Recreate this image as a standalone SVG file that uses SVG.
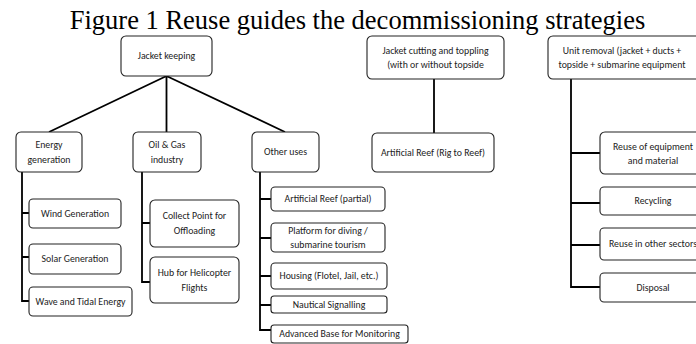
<svg xmlns="http://www.w3.org/2000/svg" width="696" height="344" viewBox="0 0 696 344">
<style>
.box{fill:#fff;stroke:#222;stroke-width:1.1}
.t{font-family:"Carlito","Liberation Sans",sans-serif;font-size:9.8px;fill:#222;text-anchor:middle;dominant-baseline:central}
.c{fill:none;stroke:#000;stroke-width:1.8}
.title{font-family:"Liberation Serif","Times New Roman",serif;font-size:26.5px;fill:#000;text-anchor:middle}
</style>
<rect width="696" height="344" fill="#fff"/>
<text class="title" x="357.5" y="28.5">Figure 1 Reuse guides the decommissioning strategies</text>
<g id="connectors">
<path class="c" d="M166.5 76 L49 132 M166.5 76 L166.5 132 M166.5 76 L285 132"/>
<path class="c" d="M22 172 V301 H29 M22 213 H29 M22 257 H29"/>
<path class="c" d="M142 172 V282 H150 M142 223 H150"/>
<path class="c" d="M260 172 V330 H271 M260 199 H271 M260 238 H271 M260 276 H271 M260 305 H271"/>
<path class="c" d="M434 79 V133"/>
<path class="c" d="M571 79 V287 H600 M571 153 H600 M571 203 H600 M571 245 H600"/>
</g>
<g id="jacket-keeping"><rect class="box" x="121" y="36" width="91" height="40" rx="5"/><text class="t" x="166.5" y="56">Jacket keeping</text></g>
<g id="energy-generation"><rect class="box" x="16" y="132" width="66" height="40" rx="5"/><text class="t" x="49" y="144.5">Energy</text><text class="t" x="49" y="160">generation</text></g>
<g id="oil-gas"><rect class="box" x="133" y="132" width="68" height="40" rx="5"/><text class="t" x="167" y="144.5">Oil &amp; Gas</text><text class="t" x="167" y="160">industry</text></g>
<g id="other-uses"><rect class="box" x="252" y="132" width="67" height="40" rx="5"/><text class="t" x="285.5" y="152">Other uses</text></g>
<g id="wind"><rect class="box" x="29" y="199" width="92" height="29" rx="4"/><text class="t" x="75" y="213.5">Wind Generation</text></g>
<g id="solar"><rect class="box" x="29" y="244" width="92" height="30" rx="4"/><text class="t" x="75" y="259">Solar Generation</text></g>
<g id="wave"><rect class="box" x="29" y="287" width="103" height="29" rx="4"/><text class="t" x="80.5" y="301.5">Wave and Tidal Energy</text></g>
<g id="collect"><rect class="box" x="150" y="200" width="89" height="47" rx="5"/><text class="t" x="194.5" y="216">Collect Point for</text><text class="t" x="194.5" y="231">Offloading</text></g>
<g id="hub"><rect class="box" x="150" y="257" width="89" height="46" rx="5"/><text class="t" x="194.5" y="273">Hub for Helicopter</text><text class="t" x="194.5" y="288">Flights</text></g>
<g id="reef-partial"><rect class="box" x="271" y="187" width="114" height="24" rx="4"/><text class="t" x="328" y="199">Artificial Reef (partial)</text></g>
<g id="platform"><rect class="box" x="271" y="223" width="114" height="29" rx="4"/><text class="t" x="328" y="230.5">Platform for diving /</text><text class="t" x="328" y="245">submarine tourism</text></g>
<g id="housing"><rect class="box" x="271" y="263" width="116" height="26" rx="4"/><text class="t" x="329" y="276">Housing (Flotel, Jail, etc.)</text></g>
<g id="nautical"><rect class="box" x="271" y="296" width="116" height="17" rx="3"/><text class="t" x="329" y="304.5">Nautical Signalling</text></g>
<g id="advanced"><rect class="box" x="271" y="325" width="137" height="18" rx="3"/><text class="t" x="339.5" y="334">Advanced Base for Monitoring</text></g>
<g id="jacket-cutting"><rect class="box" x="367" y="36" width="137" height="43" rx="5"/><text class="t" x="435.5" y="50.5">Jacket cutting and toppling</text><text class="t" x="435.5" y="64.5">(with or without topside</text></g>
<g id="reef-rig"><rect class="box" x="372" y="133" width="122" height="39" rx="5"/><text class="t" x="433" y="152.5">Artificial Reef (Rig to Reef)</text></g>
<g id="unit-removal"><rect class="box" x="548" y="36" width="160" height="43" rx="5"/><text class="t" x="622" y="51">Unit removal (jacket + ducts +</text><text class="t" x="622" y="65">topside + submarine equipment</text></g>
<g id="reuse-equipment"><rect class="box" x="600" y="132" width="110" height="42" rx="5"/><text class="t" x="653" y="146.5">Reuse of equipment</text><text class="t" x="653" y="160.5">and material</text></g>
<g id="recycling"><rect class="box" x="600" y="187" width="110" height="28" rx="4"/><text class="t" x="653" y="201">Recycling</text></g>
<g id="reuse-sectors"><rect class="box" x="600" y="228" width="110" height="32" rx="4"/><text class="t" x="653" y="244">Reuse in other sectors</text></g>
<g id="disposal"><rect class="box" x="600" y="273" width="110" height="29" rx="4"/><text class="t" x="653" y="287.5">Disposal</text></g>
</svg>
